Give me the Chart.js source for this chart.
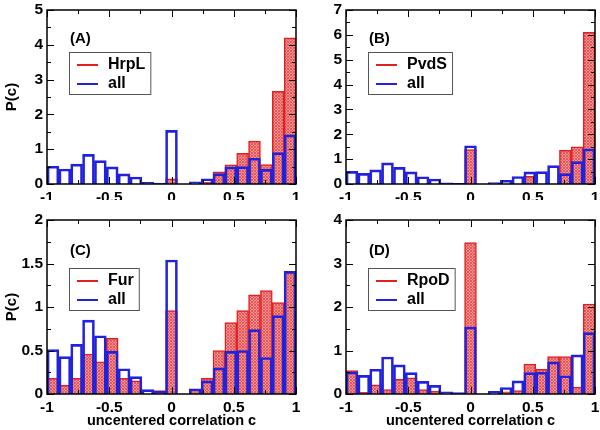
<!DOCTYPE html>
<html>
<head>
<meta charset="utf-8">
<script src="https://cdn.jsdelivr.net/npm/chart.js@4/dist/chart.umd.min.js"></script>
<style>
  body { margin: 0; background: #fff; }
  .panel { position: absolute; }
</style>
</head>
<body>
<div class="panel" style="left:0;top:0;width:300px;height:200px"><canvas id="cA"></canvas></div>
<div class="panel" style="left:300px;top:0;width:300px;height:200px"><canvas id="cB"></canvas></div>
<div class="panel" style="left:0;top:200px;width:300px;height:230px"><canvas id="cC"></canvas></div>
<div class="panel" style="left:300px;top:200px;width:300px;height:230px"><canvas id="cD"></canvas></div>
<script>
// 21 bins of equal width between -1 and 1
const nBins = 21;
const binCenters = Array.from({length: nBins}, (_, i) => -1 + (i + 0.5) * 2 / nBins);

const allGenes = [0.51, 0.43, 0.57, 0.85, 0.67, 0.49, 0.29, 0.2, 0.05, 0.03, 1.54, 0, 0.06, 0.15, 0.3, 0.49, 0.5, 0.74, 0.42, 0.9, 1.41];
const hrpL = [0, 0, 0, 0, 0, 0, 0, 0, 0, 0, 0.15, 0, 0, 0.05, 0.35, 0.55, 0.88, 1.23, 0.56, 2.66, 4.2];
const pvdS = [0, 0, 0, 0, 0, 0, 0, 0, 0, 0, 1.38, 0, 0, 0, 0, 0.31, 0, 0, 1.35, 1.5, 6.1];
const fur = [0.18, 0.1, 0.18, 0.46, 0.37, 0.64, 0.18, 0.15, 0, 0.04, 0.96, 0, 0.05, 0.18, 0.5, 0.82, 0.96, 1.14, 1.19, 1.05, 1.4];
const rpoD = [0.54, 0.04, 0.21, 0.1, 0.34, 0.37, 0.1, 0.06, 0, 0, 3.48, 0, 0, 0.05, 0.08, 0.69, 0.57, 0.86, 0.86, 0.16, 2.07];

const xTicks = [-1, -0.5, 0, 0.5, 1];

const FONT = '"Liberation Sans", Arial, sans-serif';
const RED = '#e02020';
const BLUE = '#2222dd';

function hatch() {
  const c = document.createElement('canvas');
  c.width = 3; c.height = 3;
  const g = c.getContext('2d');
  g.fillStyle = '#f49090';
  g.fillRect(0, 0, 3, 3);
  g.fillStyle = '#e45a5a';
  g.fillRect(0, 0, 1, 1); g.fillRect(1, 1, 1, 1); g.fillRect(2, 2, 1, 1);
  g.fillRect(2, 0, 1, 1); g.fillRect(0, 2, 1, 1);
  return g.createPattern(c, 'repeat');
}

// frame with inward ticks on all four sides, plus panel tag and legend box
const decor = {
  id: 'decor',
  afterDatasetsDraw(chart, args, o) {
    const {ctx, chartArea: a, scales: {x, y}} = chart;
    ctx.save();
    ctx.strokeStyle = '#000';
    ctx.lineWidth = 1;
    for (let v = -1; v <= 1.001; v += 0.25) {
      const px = Math.round(x.getPixelForValue(v)) + 0.5;
      const len = Math.abs(v * 2 - Math.round(v * 2)) < 1e-6 ? 7 : 4;
      ctx.beginPath();
      ctx.moveTo(px, a.bottom); ctx.lineTo(px, a.bottom - len);
      ctx.moveTo(px, a.top); ctx.lineTo(px, a.top + len);
      ctx.stroke();
    }
    for (let v = 0; v <= o.yMax + 1e-6; v += o.yStep / 2) {
      const py = Math.round(y.getPixelForValue(v)) + 0.5;
      const major = Math.abs(v / o.yStep - Math.round(v / o.yStep)) < 1e-6;
      const len = major ? 7 : 4;
      ctx.beginPath();
      ctx.moveTo(a.left, py); ctx.lineTo(a.left + len, py);
      ctx.moveTo(a.right, py); ctx.lineTo(a.right - len, py);
      ctx.stroke();
    }
    ctx.lineWidth = 1.5;
    ctx.strokeRect(a.left, a.top, a.right - a.left, a.bottom - a.top);

    ctx.fillStyle = '#000';
    ctx.font = 'bold 15px ' + FONT;
    ctx.textBaseline = 'middle';
    ctx.textAlign = 'left';
    ctx.fillText(o.tag, a.left + 23, a.top + o.tagDy);

    ctx.font = 'bold 16px ' + FONT;
    const bx = a.left + 22, by = a.top + o.boxDy;
    const bw = 44 + ctx.measureText(o.name).width;
    ctx.lineWidth = 1;
    ctx.strokeStyle = '#555';
    ctx.strokeRect(bx + 0.5, by + 0.5, bw, 42);
    ctx.lineWidth = 2;
    ctx.strokeStyle = RED;
    ctx.beginPath(); ctx.moveTo(bx + 8, by + 13); ctx.lineTo(bx + 29, by + 13); ctx.stroke();
    ctx.strokeStyle = BLUE;
    ctx.beginPath(); ctx.moveTo(bx + 8, by + 32); ctx.lineTo(bx + 29, by + 32); ctx.stroke();
    ctx.fillText(o.name, bx + 39, by + 13);
    ctx.fillText('all', bx + 39, by + 32);
    ctx.restore();
  }
};

function panel(id, name, tag, values, yMax, yStep, cfg) {
  const pts = v => binCenters.map((c, i) => ({x: c, y: v[i]}));
  const barOpts = {grouped: false, barPercentage: 1, categoryPercentage: 1};
  new Chart(document.getElementById(id), {
    type: 'bar',
    data: {
      datasets: [
        Object.assign({label: name, data: pts(values), backgroundColor: hatch(), borderColor: RED,
         borderWidth: 1.5, order: 2}, barOpts),
        Object.assign({label: 'all', data: pts(allGenes), backgroundColor: 'rgba(0,0,0,0)', borderColor: BLUE,
         borderWidth: 2, order: 1}, barOpts)
      ]
    },
    options: {
      responsive: true,
      maintainAspectRatio: false,
      animation: false,
      layout: {padding: {top: cfg.top, right: cfg.right, left: 0, bottom: 0}},
      plugins: {
        legend: {display: false},
        tooltip: {enabled: false},
        decor: {tag: tag, name: name, yMax: yMax, yStep: yStep, tagDy: cfg.tagDy, boxDy: cfg.boxDy}
      },
      scales: {
        x: {
          type: 'linear', min: -1, max: 1, offset: false,
          grid: {display: false, drawTicks: false, offset: false},
          border: {display: false},
          afterBuildTicks: s => { s.ticks = xTicks.map(v => ({value: v})); },
          afterFit: s => { s.height = cfg.xh; s.paddingLeft = 0; s.paddingRight = 0; },
          ticks: {color: '#000', padding: 4, maxRotation: 0,
                  font: {family: FONT, size: 15.5, weight: 'bold'},
                  callback: v => String(v)},
          title: {display: cfg.xTitle, text: 'uncentered correlation c', color: '#000',
                  padding: {top: 2, bottom: 0},
                  font: {family: FONT, size: 14.5, weight: 'bold'}}
        },
        y: {
          min: 0, max: yMax,
          grid: {display: false, drawTicks: false},
          border: {display: false},
          afterFit: s => { s.width = cfg.yw; s.paddingTop = 0; s.paddingBottom = 0; },
          ticks: {stepSize: yStep, color: '#000', padding: 4,
                  font: {family: FONT, size: 15.5, weight: 'bold'},
                  callback: v => String(+v.toFixed(2))},
          title: {display: cfg.yTitle, text: 'P(c)', color: '#000',
                  padding: {top: 3, bottom: 0},
                  font: {family: FONT, size: 15, weight: 'bold'}}
        }
      }
    },
    plugins: [decor]
  });
}

panel('cA', 'HrpL', '(A)', hrpL, 5, 1,
  {top: 10, right: 4, xh: 16, yw: 47, xTitle: false, yTitle: true, tagDy: 29, boxDy: 42});
panel('cB', 'PvdS', '(B)', pvdS, 7, 1,
  {top: 10, right: 5, xh: 16, yw: 46, xTitle: false, yTitle: false, tagDy: 29, boxDy: 42});
panel('cC', 'Fur', '(C)', fur, 2, 0.5,
  {top: 20, right: 4, xh: 36, yw: 47, xTitle: true, yTitle: true, tagDy: 31, boxDy: 48});
panel('cD', 'RpoD', '(D)', rpoD, 4, 1,
  {top: 20, right: 5, xh: 36, yw: 46, xTitle: true, yTitle: false, tagDy: 31, boxDy: 48});
</script>
</body>
</html>
